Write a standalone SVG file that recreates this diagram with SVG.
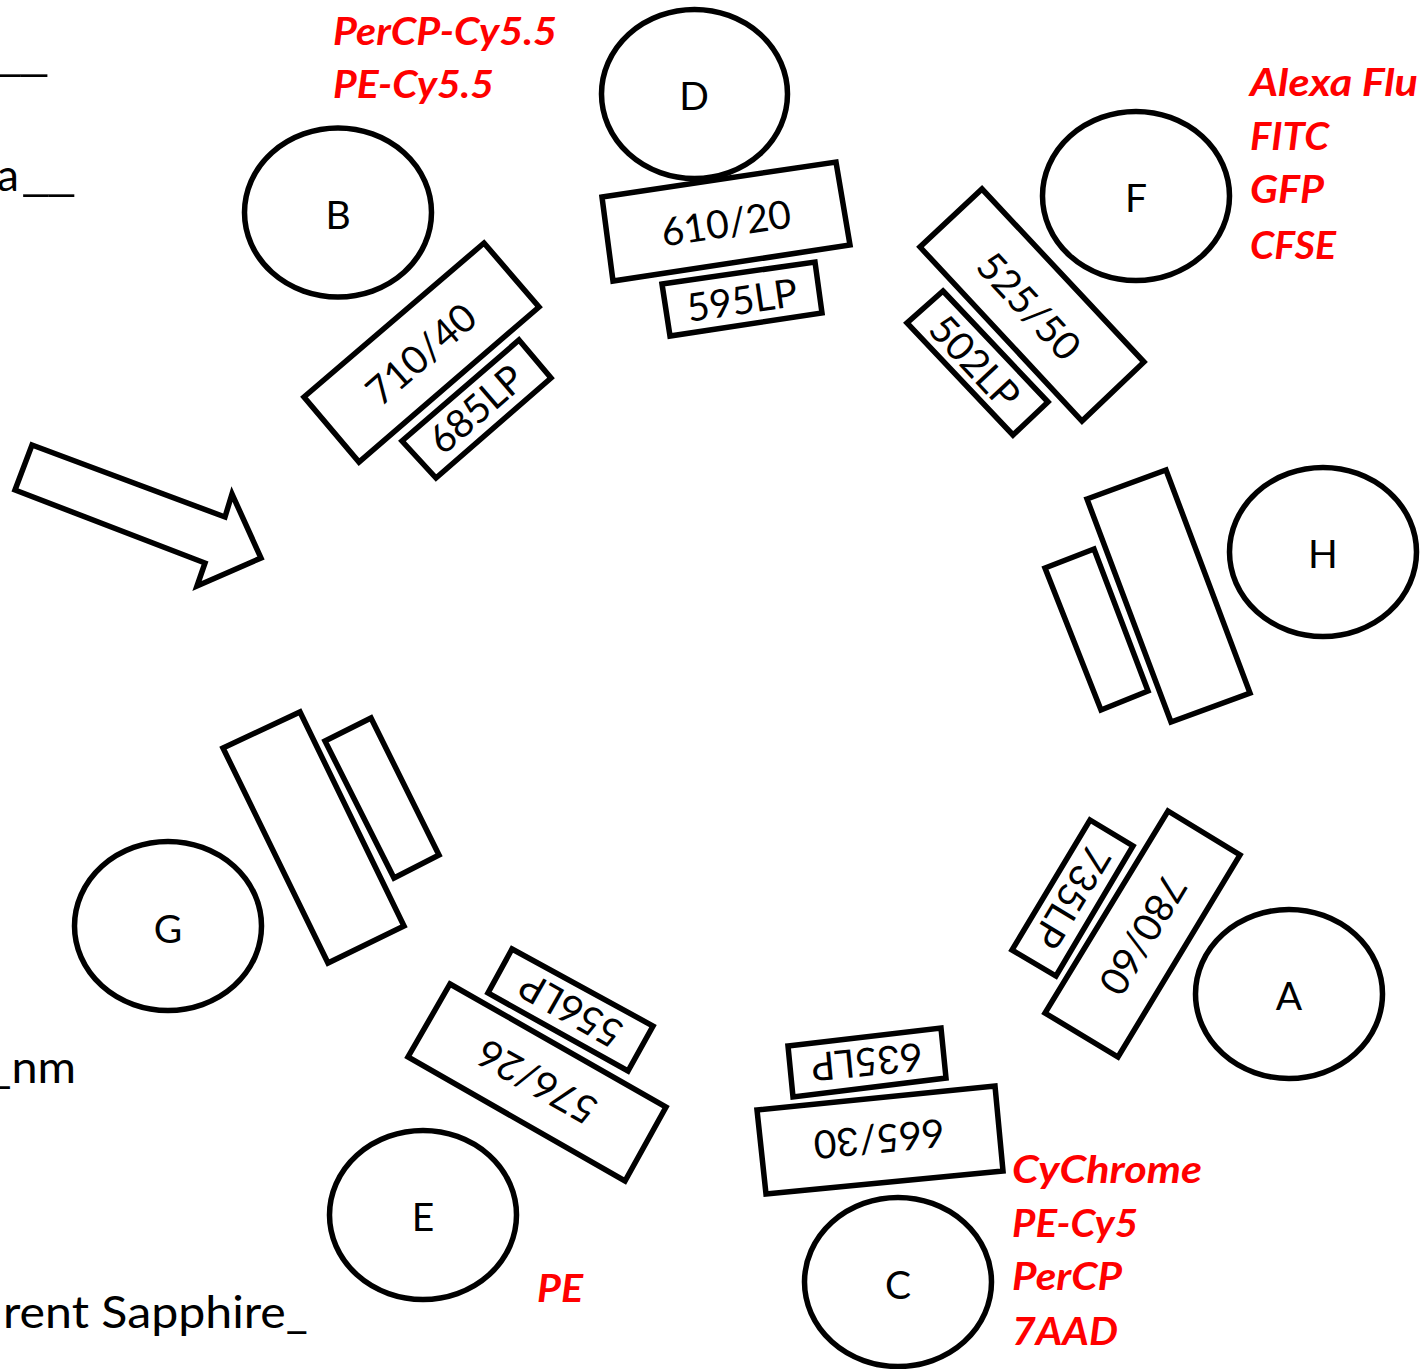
<svg xmlns="http://www.w3.org/2000/svg" width="1421" height="1369" viewBox="0 0 1421 1369">
<style>
.s{fill:#fff;stroke:#000;stroke-width:5.5;stroke-linejoin:miter}
.t{font-family:"Lato","Open Sans","Liberation Sans",sans-serif;fill:#000;text-anchor:middle}
.f{font-size:39px}
.n{font-size:39px}
.r{font-family:"Lato","Open Sans","Liberation Sans",sans-serif;font-size:38px;font-weight:700;font-style:italic;fill:#f00}
.l{font-family:"Lato","Open Sans","Liberation Sans",sans-serif;font-size:44px;fill:#000}
.u{letter-spacing:-3px}
</style>
<rect width="1421" height="1369" fill="#fff"/>
<g id="connectors"><polygon id="laser-arrow" class="s" points="32,445 225,517 232,494 261,558 197,586 205,563 15,490"/></g>
<g id="node-B"><ellipse class="s" cx="338" cy="212.500" rx="93.500" ry="84.500"/><text class="t n" x="338" y="229">B</text>
<polygon class="s" points="484,243 539,307 359,462 304,397"/><text class="t f" transform="translate(421,354) rotate(-41)" y="14">710/40</text>
<polygon class="s" points="519,340 551,378 436,478 402,441"/><text class="t f" transform="translate(476,409) rotate(-41)" y="14">685LP</text></g>
<g id="node-D"><ellipse class="s" cx="694.500" cy="94" rx="93" ry="84.500"/><text class="t n" x="694" y="110">D</text>
<polygon class="s" points="602,197 836,162 850,245 613,281"/><text class="t f" transform="translate(726,223) rotate(-8.5)" y="14">610/20</text>
<polygon class="s" points="662,284 815,262 822,313 670,336"/><text class="t f" transform="translate(742,300) rotate(-8.5)" y="14">595LP</text></g>
<g id="node-F"><ellipse class="s" cx="1136" cy="196" rx="93.500" ry="84.500"/><text class="t n" x="1136" y="212">F</text>
<polygon class="s" points="982,189 1144,362 1082,421 920,247"/><text class="t f" transform="translate(1029,306) rotate(47)" y="14">525/50</text>
<polygon class="s" points="943,291 1048,402 1013,435 907,323"/><text class="t f" transform="translate(975,362) rotate(47)" y="14">502LP</text></g>
<g id="node-H"><ellipse class="s" cx="1323" cy="552" rx="93.500" ry="84.500"/><text class="t n" x="1323" y="568">H</text>
<polygon class="s" points="1087,499 1166,470 1250,693 1171,722"/>
<polygon class="s" points="1045,568 1094,549 1148,691 1101,710"/></g>
<g id="node-A"><ellipse class="s" cx="1289" cy="994" rx="93.500" ry="84.500"/><text class="t n" x="1289" y="1010">A</text>
<polygon class="s" points="1168,811 1240,855 1118,1057 1045,1013"/><text class="t f" transform="translate(1143,935) rotate(-239)" y="14">780/60</text>
<polygon class="s" points="1090,820 1133,846 1056,976 1012,950"/><text class="t f" transform="translate(1072,897) rotate(-239)" y="14">735LP</text></g>
<g id="node-C"><ellipse class="s" cx="898" cy="1282" rx="93.500" ry="84.500"/><text class="t n" x="898" y="1299">C</text>
<polygon class="s" points="757,1110 995,1086 1003,1171 766,1194"/><text class="t f" transform="translate(879,1139) rotate(174.5)" y="14">665/30</text>
<polygon class="s" points="788,1046 941,1028 946,1078 793,1097"/><text class="t f" transform="translate(867,1062) rotate(174.5)" y="14">635LP</text></g>
<g id="node-E"><ellipse class="s" cx="423" cy="1215" rx="93.500" ry="84.500"/><text class="t n" x="423" y="1231">E</text>
<polygon class="s" points="450,984 666,1107 625,1181 408,1057"/><text class="t f" transform="translate(537,1082) rotate(209.5)" y="14">576/26</text>
<polygon class="s" points="512,949 653,1026 628,1071 488,993"/><text class="t f" transform="translate(571,1010) rotate(209.5)" y="14">556LP</text></g>
<g id="node-G"><ellipse class="s" cx="168" cy="926" rx="93.500" ry="84.500"/><text class="t n" x="168" y="943">G</text>
<polygon class="s" points="223,748 300,712 404,926 328,963"/>
<polygon class="s" points="325,741 371,718 439,855 394,878"/></g>
<g id="labels">
<text class="r" x="333" y="45" textLength="224" lengthAdjust="spacingAndGlyphs">PerCP-Cy5.5</text>
<text class="r" x="333" y="98" textLength="161" lengthAdjust="spacingAndGlyphs">PE-Cy5.5</text>
<text class="r" x="1250" y="96" textLength="168" lengthAdjust="spacingAndGlyphs">Alexa Flu</text>
<text class="r" x="1250" y="150" textLength="79" lengthAdjust="spacingAndGlyphs">FITC</text>
<text class="r" x="1250" y="203" textLength="74" lengthAdjust="spacingAndGlyphs">GFP</text>
<text class="r" x="1250" y="259" textLength="86" lengthAdjust="spacingAndGlyphs">CFSE</text>
<text class="r" x="1012" y="1183" textLength="190" lengthAdjust="spacingAndGlyphs">CyChrome</text>
<text class="r" x="1012" y="1237" textLength="126" lengthAdjust="spacingAndGlyphs">PE-Cy5</text>
<text class="r" x="1012" y="1290" textLength="110" lengthAdjust="spacingAndGlyphs">PerCP</text>
<text class="r" x="1012" y="1345" textLength="106" lengthAdjust="spacingAndGlyphs">7AAD</text>
<text class="r" x="537" y="1302" textLength="46" lengthAdjust="spacingAndGlyphs">PE</text>
<text class="l u" x="-8" y="71" textLength="53" lengthAdjust="spacingAndGlyphs">__</text>
<text class="l" x="-3" y="191"><tspan>a</tspan><tspan class="u" x="21" textLength="51" lengthAdjust="spacingAndGlyphs">__</tspan></text>
<text class="l" x="-10" y="1083" textLength="86" lengthAdjust="spacingAndGlyphs">_nm</text>
<text class="l" x="3" y="1328" textLength="305" lengthAdjust="spacingAndGlyphs">rent Sapphire_</text>
</g>
</svg>
